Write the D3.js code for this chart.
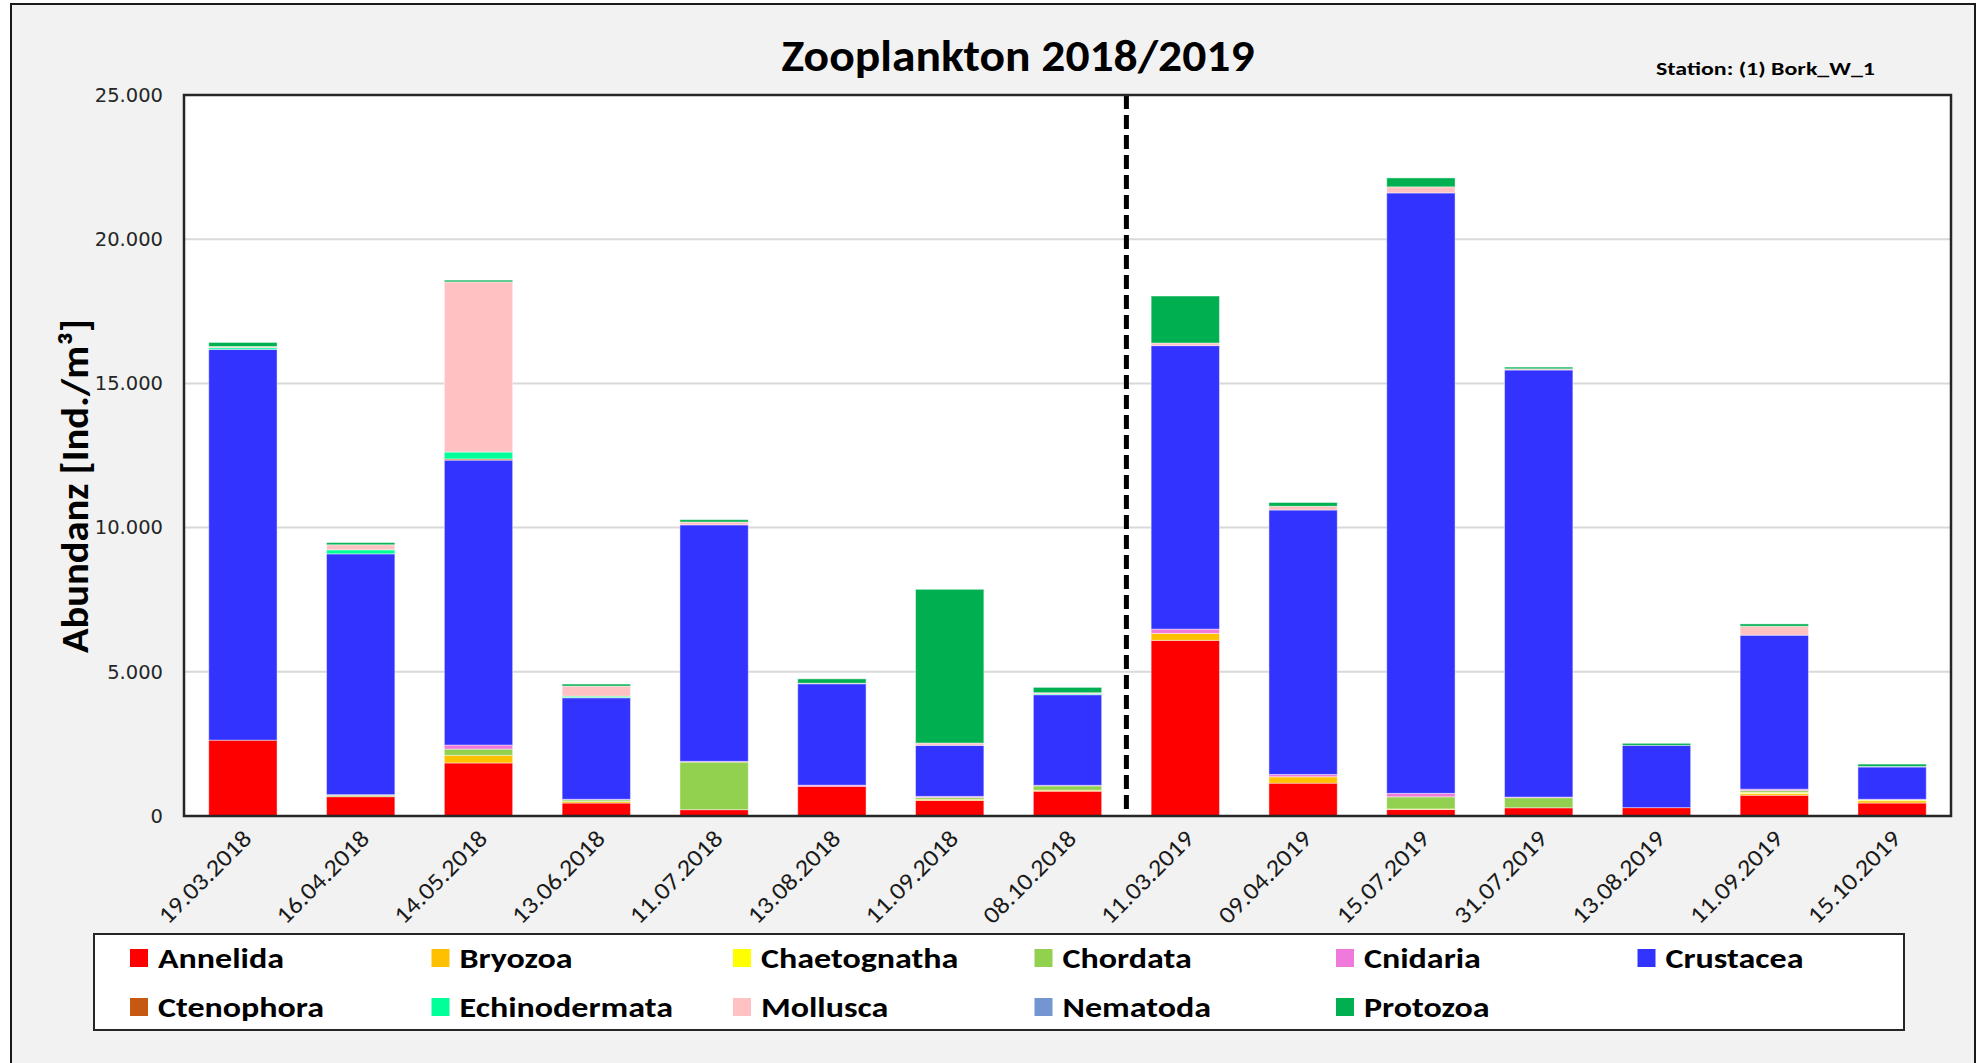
<!DOCTYPE html>
<html><head><meta charset="utf-8">
<script src="https://cdn.jsdelivr.net/npm/d3@7"></script>
<style>
html,body{margin:0;padding:0;background:#fff;}
svg{display:block;}
</style></head>
<body>
<script>
const dates = ["19.03.2018","16.04.2018","14.05.2018","13.06.2018","11.07.2018","13.08.2018","11.09.2018","08.10.2018","11.03.2019","09.04.2019","15.07.2019","31.07.2019","13.08.2019","11.09.2019","15.10.2019"];
const categories = ["Annelida","Bryozoa","Chaetognatha","Chordata","Cnidaria","Crustacea","Ctenophora","Echinodermata","Mollusca","Nematoda","Protozoa"];
const colors = ["#FF0000","#FFC000","#FFFF00","#92D050","#F07ADB","#3333FF","#C65911","#00FF99","#FFC1C1","#7396D3","#00B050"];
const annelida      = [2630, 670, 1840, 450, 220, 1030, 540, 860, 6090, 1140, 225, 285, 290, 720, 450];
const bryozoa       = [0, 0, 265, 55, 0, 0, 40, 35, 240, 220, 20, 0, 0, 60, 80];
const chaetognatha  = [0, 0, 0, 0, 0, 0, 0, 0, 0, 0, 0, 0, 0, 40, 30];
const chordata      = [0, 50, 215, 55, 1650, 0, 60, 150, 0, 0, 420, 350, 0, 60, 0];
const cnidaria      = [0, 20, 140, 20, 25, 40, 40, 20, 150, 80, 120, 20, 0, 50, 20];
const crustacea     = [13550, 8350, 9880, 3520, 8200, 3515, 1770, 3140, 9830, 9170, 20820, 14810, 2160, 5340, 1120];
const ctenophora    = [0, 0, 40, 10, 0, 0, 0, 0, 0, 0, 0, 0, 0, 0, 0];
const echinodermata = [60, 140, 240, 45, 0, 0, 0, 30, 0, 0, 0, 0, 0, 0, 0];
const mollusca      = [40, 175, 5900, 350, 100, 20, 80, 40, 90, 130, 210, 40, 0, 310, 0];
const nematoda      = [0, 0, 0, 0, 0, 0, 0, 0, 0, 0, 0, 0, 0, 0, 20];
const protozoa      = [140, 75, 60, 70, 80, 150, 5330, 185, 1630, 130, 310, 60, 70, 80, 80];
const yTicks = [0, 5000, 10000, 15000, 20000, 25000];
const title = "Zooplankton 2018/2019";
const station = "Station: (1) Bork_W_1";
const yTitle = "Abundanz [Ind./m³]";

const seriesValues = [annelida,bryozoa,chaetognatha,chordata,cnidaria,crustacea,ctenophora,echinodermata,mollusca,nematoda,protozoa];
const table = dates.map((d,i)=>{const o={date:d}; categories.forEach((c,k)=>o[c]=seriesValues[k][i]); return o;});

const W=1977,H=1063;
const svg=d3.select("body").append("svg").attr("width",W).attr("height",H);
const calibri = "Carlito, Lato, 'Open Sans', sans-serif";

function stretch(sel, k){
  sel.each(function(){ const L=this.getComputedTextLength(); d3.select(this).attr("textLength",L*k).attr("lengthAdjust","spacingAndGlyphs"); });
}

svg.append("rect").attr("x",11).attr("y",4).attr("width",1964).attr("height",1080)
  .attr("fill","#f2f2f2").attr("stroke","#1a1a1a").attr("stroke-width",2);

const m={l:184,r:1951,t:95,b:816};
const x=d3.scaleBand().domain(dates).range([m.l,m.r]).paddingInner(0.42).paddingOuter(0.21);
const y=d3.scaleLinear().domain([0,25000]).range([m.b,m.t]);

svg.append("rect").attr("x",m.l).attr("y",m.t).attr("width",m.r-m.l).attr("height",m.b-m.t).attr("fill","#fff");

svg.append("g").selectAll("line").data(yTicks.filter(t=>t>0&&t<25000)).join("line")
  .attr("x1",m.l).attr("x2",m.r).attr("y1",d=>y(d)).attr("y2",d=>y(d))
  .attr("stroke","#d9d9d9").attr("stroke-width",2);

const stack=d3.stack().keys(categories)(table);
svg.append("g").selectAll("g").data(stack).join("g")
  .attr("fill",(d,i)=>colors[i])
  .selectAll("rect").data(d=>d).join("rect")
  .attr("x",d=>x(d.data.date)).attr("width",x.bandwidth())
  .attr("y",d=>y(d[1])).attr("height",d=>Math.max(0,y(d[0])-y(d[1])))
  .attr("stroke","#ffffff").attr("stroke-opacity",0.45).attr("stroke-width",1);

const sep = (x("08.10.2018")+x.bandwidth()+x("11.03.2019"))/2;
svg.append("line").attr("x1",sep).attr("x2",sep).attr("y1",m.t).attr("y2",m.b)
  .attr("stroke","#000").attr("stroke-width",5).attr("stroke-dasharray","14,6");

svg.append("rect").attr("x",m.l).attr("y",m.t).attr("width",m.r-m.l).attr("height",m.b-m.t)
  .attr("fill","none").attr("stroke","#262626").attr("stroke-width",2.5);

const fmt=d3.formatLocale({decimal:",",thousands:".",grouping:[3],currency:["","€"]}).format(",");
const yAxis=svg.append("g").attr("transform",`translate(${m.l},0)`)
  .call(d3.axisLeft(y).tickValues(yTicks).tickFormat(d=>d===0?"0":fmt(d)).tickSize(0).tickPadding(21));
yAxis.select(".domain").remove();
yAxis.selectAll("text").attr("font-family","'DejaVu Sans', Verdana, sans-serif").attr("font-size",19.5).attr("fill","#262626");

const xAxis=svg.append("g").attr("transform",`translate(0,${m.b})`)
  .call(d3.axisBottom(x).tickSize(0));
xAxis.select(".domain").remove();
const xt = xAxis.selectAll("text").attr("font-family",calibri).attr("font-size",24).attr("fill","#1a1a1a")
  .attr("text-anchor","end").attr("dy",0)
  .attr("transform","translate(8,22) rotate(-45)");
stretch(xt, 1.1);

svg.append("text").attr("x",1018).attr("y",71).attr("text-anchor","middle")
  .attr("font-family",calibri).attr("font-weight","bold").attr("font-size",45)
  .attr("textLength",473).attr("lengthAdjust","spacingAndGlyphs").text(title);
svg.append("text").attr("x",1656).attr("y",75)
  .attr("font-family",calibri).attr("font-weight","bold").attr("font-size",19)
  .attr("textLength",219).attr("lengthAdjust","spacingAndGlyphs").text(station);

svg.append("text").attr("transform","translate(88,486) rotate(-90)").attr("text-anchor","middle")
  .attr("font-family",calibri).attr("font-weight","bold").attr("font-size",38)
  .attr("textLength",334).attr("lengthAdjust","spacingAndGlyphs").text(yTitle);

svg.append("rect").attr("x",94).attr("y",934).attr("width",1810).attr("height",96)
  .attr("fill","#fff").attr("stroke","#262626").attr("stroke-width",2);
const lg=svg.append("g").selectAll("g").data(categories).join("g")
  .attr("transform",(d,i)=>`translate(${130+(i%6)*301.5},${949+Math.floor(i/6)*49})`);
lg.append("rect").attr("width",18).attr("height",18).attr("fill",(d,i)=>colors[i]);
const lt = lg.append("text").attr("x",28).attr("y",19).attr("font-family",calibri).attr("font-weight","bold")
  .attr("font-size",28).attr("fill","#000").text(d=>d);
const aLen = lt.filter(d=>d==="Annelida").node().getComputedTextLength();
stretch(lt, 126/aLen);
</script>
</body></html>
